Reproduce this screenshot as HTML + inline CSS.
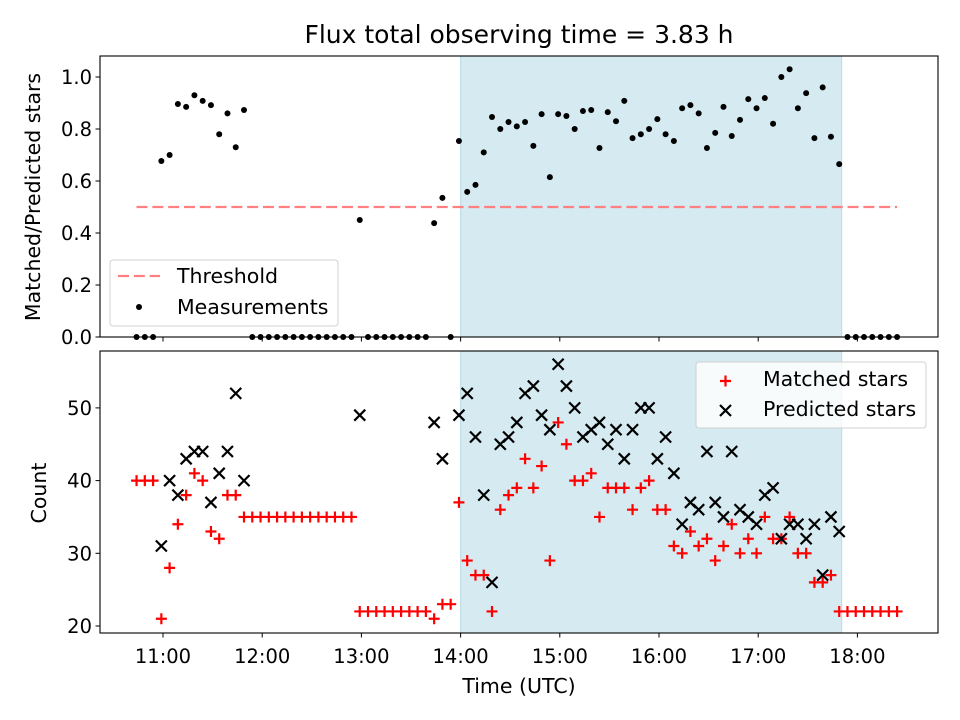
<!DOCTYPE html>
<html><head><meta charset="utf-8"><style>
html,body{margin:0;padding:0;background:#fff;}
svg{display:block;font-family:"DejaVu Sans","Liberation Sans",sans-serif;}
</style></head><body>
<svg id="chart" width="960" height="720" viewBox="0 0 960 720">
<rect width="960" height="720" fill="#fff"/>
<text x="519" y="43" font-size="25" text-anchor="middle">Flux total observing time = 3.83 h</text>
<g id="top"></g><g id="bot"></g>
<text x="519" y="693" font-size="20.5" text-anchor="middle">Time (UTC)</text>
<text transform="translate(40,197) rotate(-90)" font-size="20.5" text-anchor="middle">Matched/Predicted stars</text>
<text transform="translate(46,493) rotate(-90)" font-size="20.5" text-anchor="middle">Count</text>
<g font-size="20.5">
<rect x="110" y="260" width="228" height="66" rx="3" fill="#fff" fill-opacity="0.8" stroke="#d0d0d0"/>
<line x1="118" x2="160" y1="276" y2="276" stroke="#ff8080" stroke-width="2.2" stroke-dasharray="11,4.8"/>
<text x="177" y="283">Threshold</text>
<circle cx="139" cy="307" r="3" fill="#000"/>
<text x="177" y="314">Measurements</text>
</g>
<g font-size="20.5">
<rect x="696" y="362" width="230" height="66" rx="3" fill="#fff" fill-opacity="0.8" stroke="#d0d0d0"/>
<path d="M720 381H731M725.5 375.5V386.5" stroke="#ff0000" stroke-width="2.2"/>
<text x="763" y="386">Matched stars</text>
<path d="M720 405L731 416M720 416L731 405" stroke="#000" stroke-width="2.2"/>
<text x="763" y="416">Predicted stars</text>
</g>
</svg>
<script>
// minutes after 10:00
const times=[44,49,54,59,64,69,74,79,84,89,94,99,104,109,114,119,124,129,134,139,144,149,154,159,164,169,174,179,184,189,194,199,204,209,214,219,224,229,234,239,244,249,254,259,264,269,274,279,284,289,294,299,304,309,314,319,324,329,334,339,344,349,354,359,364,369,374,379,384,389,394,399,404,409,414,419,424,429,434,439,444,449,454,459,464,469,474,479,484,489,494,499,504];
const ratio=[0,0,0,0.677,0.70,0.896,0.885,0.93,0.908,0.892,0.78,0.86,0.73,0.873,0,0,0,0,0,0,0,0,0,0,0,0,0,0.45,0,0,0,0,0,0,0,0,0.438,0.535,0,0.754,
0.558,0.585,0.71,0.846,0.80,0.827,0.81,0.827,0.735,0.857,0.615,0.857,0.85,0.80,0.869,0.873,0.727,0.865,0.83,0.908,0.765,0.78,0.80,0.838,0.78,0.754,0.88,0.892,0.86,0.727,0.785,0.885,0.773,0.835,0.915,0.88,0.919,0.82,1.0,1.03,0.88,0.938,0.765,0.96,0.77,0.665,0,0,0,0,0,0,0];
const matched=[40,40,40,21,28,34,38,41,40,33,32,38,38,35,35,35,35,35,35,35,35,35,35,35,35,35,35,22,22,22,22,22,22,22,22,22,21,23,23,37,
29,27,27,22,36,38,39,43,39,42,29,48,45,40,40,41,35,39,39,39,36,39,40,36,36,31,30,33,31,32,29,31,34,30,32,30,35,32,32,35,30,30,26,26,27,22,22,22,22,22,22,22,22];
const predicted=[null,null,null,31,40,38,43,44,44,37,41,44,52,40,null,null,null,null,null,null,null,null,null,null,null,null,null,49,null,null,null,null,null,null,null,null,48,43,null,49,
52,46,38,26,45,46,48,52,53,49,47,56,53,50,46,47,48,45,47,43,47,50,50,43,46,41,34,37,36,44,37,35,44,36,35,34,38,39,32,34,34,32,34,27,35,33,null,null,null,null,null,null,null];
const xTicks=[60,120,180,240,300,360,420,480];
const xTickLabels=["11:00","12:00","13:00","14:00","15:00","16:00","17:00","18:00"];
const topTicks=[0,0.2,0.4,0.6,0.8,1.0];
const botTicks=[20,30,40,50];
const threshold=0.5;
const shadeStart=240, shadeEnd=470.5;

const NS="http://www.w3.org/2000/svg";
const L=100,R=938;
const X=m=>163+(m-60)*99.2/60;
const YT=v=>337-v*260;
const YB=v=>626-(v-20)*7.27;
function mk(t,a,p){const e=document.createElementNS(NS,t);for(const k in a)e.setAttribute(k,a[k]);p.appendChild(e);return e;}

function panel(g,top,bottom,name){
  const s=mk('rect',{x:X(shadeStart),y:top,width:X(shadeEnd)-X(shadeStart),height:bottom-top,fill:'#d5eaf1',stroke:'#b9dbe6','stroke-width':1},g);
  
  
}
function frame(g,top,bottom,name){
  const f=mk('rect',{x:L,y:top,width:R-L,height:bottom-top,fill:'none',stroke:'#000','stroke-width':1.1},g);
  
  
  xTicks.forEach(m=>{
    const t=mk('line',{x1:X(m),x2:X(m),y1:bottom,y2:bottom+4.5,stroke:'#000'},g);
    
    
  });
}
const gt=document.getElementById('top'), gb=document.getElementById('bot');
panel(gt,56,337,'top');
const th=mk('line',{x1:X(times[0]),x2:X(times[times.length-1]),y1:YT(threshold),y2:YT(threshold),stroke:'#ff8080','stroke-width':2.2,'stroke-dasharray':'11,4.8'},gt);


times.forEach((m,i)=>{
  const c=mk('circle',{cx:X(m),cy:YT(ratio[i]),r:3,fill:'#000'},gt);
  
  
});
frame(gt,56,337,'top');
topTicks.forEach(v=>{
  mk('line',{x1:L-4.5,x2:L,y1:YT(v),y2:YT(v),stroke:'#000'},gt);
  const t=mk('text',{x:L-8,y:YT(v)+7,'font-size':19.5,'text-anchor':'end'},gt);
  t.textContent=v.toFixed(1);
  
  
});
panel(gb,351,633,'bottom');
times.forEach((m,i)=>{
  const x=X(m),y=YB(matched[i]);
  const p=mk('path',{d:`M${x-5.5} ${y}H${x+5.5}M${x} ${y-5.5}V${y+5.5}`,stroke:'#ff0000','stroke-width':2.2},gb);
  
  
});
times.forEach((m,i)=>{
  if(predicted[i]==null)return;
  const x=X(m),y=YB(predicted[i]);
  const p=mk('path',{d:`M${x-5.5} ${y-5.5}L${x+5.5} ${y+5.5}M${x-5.5} ${y+5.5}L${x+5.5} ${y-5.5}`,stroke:'#000','stroke-width':2.2},gb);
  
  
});
frame(gb,351,633,'bottom');
botTicks.forEach(v=>{
  mk('line',{x1:L-4.5,x2:L,y1:YB(v),y2:YB(v),stroke:'#000'},gb);
  const t=mk('text',{x:L-8,y:YB(v)+7,'font-size':19.5,'text-anchor':'end'},gb);
  t.textContent=v;
  
  
});
xTicks.forEach((m,i)=>{
  const t=mk('text',{x:X(m),y:663,'font-size':19.5,'text-anchor':'middle'},gb);
  t.textContent=xTickLabels[i];
  
  
});
</script>
</body></html>
